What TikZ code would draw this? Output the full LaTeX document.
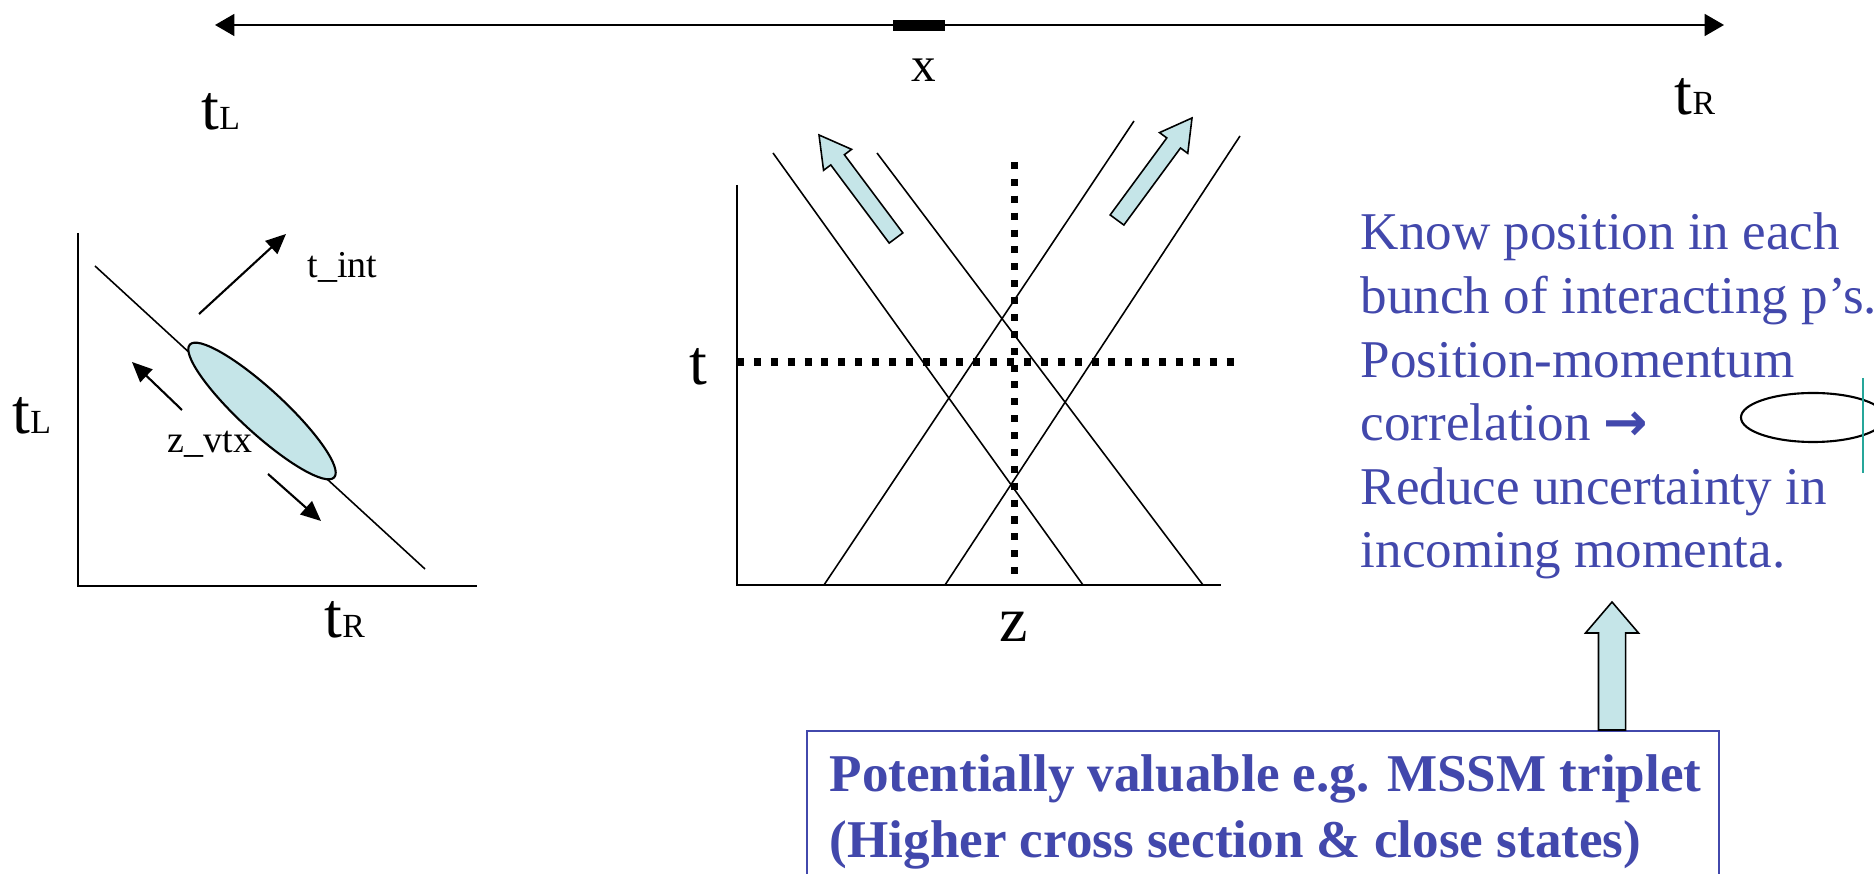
\documentclass[tikz,border=0pt]{standalone}
\usepackage{fontspec}
\setmainfont{Liberation Serif}
\newfontfamily\arrowfont{DejaVu Sans}
\usetikzlibrary{positioning, arrows.meta, shapes.geometric, calc}
\definecolor{slideblue}{RGB}{66,72,172}
\definecolor{paleteal}{RGB}{197,229,232}
\definecolor{markteal}{RGB}{38,166,154}

\newcommand{\tsub}[1]{t{\fontsize{9.6pt}{10pt}\selectfont #1}}
\newcommand{\blockarrow}[5]{%
  \coordinate (hb) at ($(#2)!#5!(#1)$);
  \draw[fatarrow] ($(#1)!#3!90:(#2)$) -- ($(hb)!#3!90:(#2)$) -- ($(hb)!#4!90:(#2)$)
    -- (#2) -- ($(hb)!#4!-90:(#2)$) -- ($(hb)!#3!-90:(#2)$) -- ($(#1)!#3!-90:(#2)$) -- cycle;}

\begin{document}
\begin{tikzpicture}[x=0.01cm, y=-0.01cm,
    axis/.style={line width=0.6pt},
    track/.style={line width=0.45pt},
    dotline/.style={line width=2pt, dash pattern=on 2pt off 2.8pt},
    thinarrow/.style={line width=0.6pt, -{Triangle[length=5.7pt, width=5pt]}},
    fatarrow/.style={draw=black, line width=0.45pt, fill=paleteal, line join=miter},
    biglabel/.style={font=\fontsize{18.2pt}{20pt}\selectfont, inner sep=0pt},
    smalllabel/.style={font=\fontsize{10.8pt}{12pt}\selectfont, inner sep=0pt},
    bluetext/.style={text=slideblue, font=\fontsize{15.1pt}{18.1pt}\selectfont, align=left, inner sep=0pt},
]
\useasboundingbox (0,0) rectangle (1874,874);

\coordinate (xl) at (215,25);
\coordinate (xr) at (1724,25);
\draw[line width=0.6pt, {Triangle[length=5.5pt, width=6.2pt]}-{Triangle[length=5.5pt, width=6.2pt]}] (xl) -- (xr);
\node[fill=black, minimum width=0.52cm, minimum height=0.11cm, inner sep=0pt] (xbar) at (919,25.5) {};
\node[font=\fontsize{14pt}{16pt}\selectfont, inner sep=0pt, anchor=base] (xlab) at (924,82) {x};
\node[biglabel, anchor=base west] (tltop) at (201,130) {\tsub{L}};
\node[biglabel, anchor=base west] (trtop) at (1674,115) {\tsub{R}};

\coordinate (lo) at (78,586);
\coordinate (ltop) at (78,233);
\coordinate (lright) at (477,586);
\draw[axis] (ltop) -- (lo) -- (lright);
\coordinate (da) at (95,266);
\coordinate (db) at (425,569);
\draw[track] (da) -- (db);
\node[ellipse, draw, line width=0.6pt, fill=paleteal, minimum width=1.96cm, minimum height=0.44cm,
      inner sep=0pt, rotate=-42.6] (vtx) at (262,411) {};
\coordinate (ia) at (199,314);
\coordinate (ib) at (286,234);
\coordinate (ua) at (182,410);
\coordinate (ub) at (132,362);
\coordinate (va) at (268,474);
\coordinate (vb) at (321,521);
\draw[thinarrow] (ia) -- (ib);
\draw[thinarrow] (ua) -- (ub);
\draw[thinarrow] (va) -- (vb);
\node[smalllabel, anchor=base west] (tint) at (307,278) {t\_int};
\node[smalllabel, anchor=base west] (zvtx) at (167,453) {z\_vtx};
\node[biglabel, anchor=base west] (tlside) at (12,434) {\tsub{L}};
\node[biglabel, anchor=base west] (trside) at (324,638) {\tsub{R}};

\coordinate (mo) at (737,585);
\coordinate (mtop) at (737,185);
\coordinate (mright) at (1221,585);
\draw[axis] (mtop) -- (mo) -- (mright);
\draw[track] (773,153) -- (1083,585);
\draw[track] (877,153) -- (1203,585);
\draw[track] (824,585) -- (1134,121);
\draw[track] (945,585) -- (1240,136);
\coordinate (zt) at (1014,162);
\coordinate (zb) at (1014,585);
\coordinate (tl) at (737,362);
\coordinate (tr) at (1239,362);
\draw[dotline] (zt) -- (zb);
\draw[dotline] (tl) -- (tr);
\coordinate (lefttail) at (896,238);
\coordinate (lefttip) at (819,135);
\coordinate (righttail) at (1117,220);
\coordinate (righttip) at (1192,118);
\blockarrow{lefttail}{lefttip}{0.085cm}{0.175cm}{0.31cm}
\blockarrow{righttail}{righttip}{0.085cm}{0.175cm}{0.31cm}
\node[biglabel, anchor=base west] (tmid) at (689,385) {t};
\node[biglabel, anchor=base] (zmid) at (1014,642) {z};

\node[bluetext, anchor=base west] (know) at (1360,568) {Know position in each\\bunch of interacting p’s.\\Position-momentum\\correlation {\arrowfont\bfseries →}\\Reduce uncertainty in\\incoming momenta.};
\node[ellipse, draw, line width=0.6pt, minimum width=1.44cm, minimum height=0.49cm, inner sep=0pt] (beam) at (1813,417.5) {};
\coordinate (cuta) at (1863,378);
\coordinate (cutb) at (1863,473);
\draw[markteal, line width=0.6pt] (cuta) -- (cutb);

\node[draw=slideblue, line width=0.6pt, fill=white, anchor=north west, minimum width=9.11cm,
      minimum height=1.8cm, inner sep=0pt] (notebox) at (806,730) {};
\node[bluetext, font=\bfseries\fontsize{15.1pt}{18.5pt}\selectfont, anchor=base west] (note) at (829,857)
    {Potentially valuable e.g. MSSM triplet\\(Higher cross section \& close states)};
\coordinate (uptip) at (1612,602);
\coordinate (uptail) at (notebox.north -| uptip);
\blockarrow{uptail}{uptip}{0.135cm}{0.265cm}{0.31cm}
\end{tikzpicture}
\end{document}
